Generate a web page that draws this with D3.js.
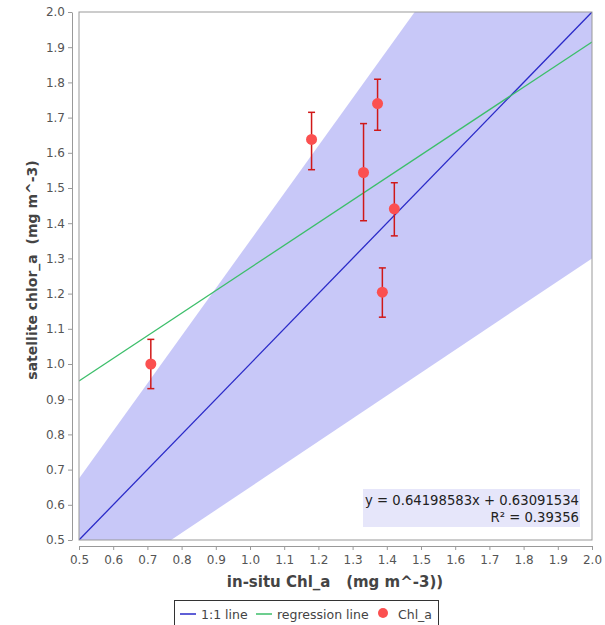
<!DOCTYPE html>
<html><head><meta charset="utf-8">
<script src="https://cdn.jsdelivr.net/npm/d3@7"></script>
<style>body{margin:0;background:#fff;} svg{display:block;font-family:"DejaVu Sans",sans-serif;} text{white-space:pre;}</style>
</head><body>
<svg id="c" width="605" height="625"></svg>
<script>
const insitu = [0.71, 1.18, 1.332, 1.373, 1.387, 1.422];
const satellite = [1.00, 1.638, 1.544, 1.74, 1.204, 1.441];
const errLow = [0.93, 1.552, 1.407, 1.664, 1.133, 1.364];
const errHigh = [1.07, 1.715, 1.683, 1.809, 1.273, 1.515];
const slope = 0.64198583, intercept = 0.63091534, r2 = "0.39356";
const bandLowFactor = 0.65, bandHighFactor = 1.35;
const xTicks = [0.5,0.6,0.7,0.8,0.9,1.0,1.1,1.2,1.3,1.4,1.5,1.6,1.7,1.8,1.9,2.0];
const yTicks = xTicks;

const svg = d3.select("#c");
const L = 79, R = 592, T = 12, B = 540;
const x = d3.scaleLinear().domain([0.5, 2.0]).range([L, R]);
const y = d3.scaleLinear().domain([0.5, 2.0]).range([B, T]);

svg.append("defs").append("clipPath").attr("id","clip")
  .append("rect").attr("x",L).attr("y",T).attr("width",R-L).attr("height",B-T);
const plot = svg.append("g").attr("clip-path","url(#clip)");

// band
const xs = [0.5, 2.0];
const bandPts = [[0.5, 0.5*bandHighFactor],[2.0,2.0*bandHighFactor],[2.0,2.0*bandLowFactor],[0.5,0.5*bandLowFactor]];
plot.append("path").attr("d", d3.line().x(d=>x(d[0])).y(d=>y(d[1]))(bandPts)+"Z")
  .attr("fill","#c8c8f8");

// 1:1 line
plot.append("path").attr("d", d3.line().x(d=>x(d)).y(d=>y(d))(xs))
  .attr("stroke","#2a2ac8").attr("stroke-width",1.3).attr("fill","none");
// regression
plot.append("path").attr("d", d3.line().x(d=>x(d)).y(d=>y(slope*d+intercept))(xs))
  .attr("stroke","#3cbe6a").attr("stroke-width",1.3).attr("fill","none");

// error bars
const eb = plot.append("g").attr("stroke","#d01818").attr("stroke-width",1.5);
insitu.forEach((v,i)=>{
  eb.append("line").attr("x1",x(v)).attr("x2",x(v)).attr("y1",y(errLow[i])).attr("y2",y(errHigh[i]));
  eb.append("line").attr("x1",x(v)-3.5).attr("x2",x(v)+3.5).attr("y1",y(errLow[i])).attr("y2",y(errLow[i]));
  eb.append("line").attr("x1",x(v)-3.5).attr("x2",x(v)+3.5).attr("y1",y(errHigh[i])).attr("y2",y(errHigh[i]));
});
plot.selectAll("circle.pt").data(insitu).join("circle").attr("class","pt")
  .attr("cx",d=>x(d)).attr("cy",(d,i)=>y(satellite[i])).attr("r",5.5).attr("fill","#fb5050");

// plot border
svg.append("rect").attr("x",L).attr("y",T).attr("width",R-L).attr("height",B-T)
  .attr("fill","none").attr("stroke","#999").attr("stroke-width",1);

// annotation
const ann = svg.append("g");
ann.append("rect").attr("x",363).attr("y",489).attr("width",217).attr("height",38).attr("fill","#e6e6fa");
ann.append("text").attr("x",579).attr("y",505).attr("text-anchor","end").attr("font-size",13.2).attr("fill","#222")
  .text(`y = ${slope}x + ${intercept}`);
ann.append("text").attr("x",579).attr("y",522).attr("text-anchor","end").attr("font-size",13.2).attr("fill","#222")
  .text(`R² = ${r2}`);

// axes
const xAxis = svg.append("g").attr("transform",`translate(0,${B+6})`)
  .call(d3.axisBottom(x).tickValues(xTicks).tickFormat(d3.format(".1f")).tickSize(4).tickSizeOuter(0));
const yAxis = svg.append("g").attr("transform",`translate(${L-7},0)`)
  .call(d3.axisLeft(y).tickValues(yTicks).tickFormat(d3.format(".1f")).tickSize(4).tickSizeOuter(0));
[xAxis,yAxis].forEach(a=>{
  a.selectAll(".domain").attr("stroke","#999");
  a.selectAll(".tick line").attr("stroke","#999");
  a.selectAll(".tick text").attr("fill","#555").attr("font-size",12).attr("font-family","DejaVu Sans");
});
xAxis.selectAll(".tick text").attr("dy","0.9em");

svg.append("text").attr("x",335).attr("y",587).attr("text-anchor","middle")
  .attr("font-size",15).attr("font-weight","bold").attr("fill","#444").text("in-situ Chl_a   (mg m^-3))");
svg.append("text").attr("transform",`translate(37,270) rotate(-90)`).attr("text-anchor","middle")
  .attr("font-size",14).attr("font-weight","bold").attr("fill","#444").text("satellite chlor_a  (mg m^-3)");

// legend
const lg = svg.append("g");
lg.append("rect").attr("x",174.5).attr("y",600.5).attr("width",264).attr("height",30)
  .attr("fill","#fff").attr("stroke","#333").attr("stroke-width",1);
lg.append("line").attr("x1",180).attr("x2",196).attr("y1",614).attr("y2",614).attr("stroke","#2a2ac8").attr("stroke-width",1.5);
lg.append("text").attr("x",201).attr("y",619).attr("font-size",12.5).attr("fill","#444").text("1:1 line");
lg.append("line").attr("x1",256).attr("x2",272).attr("y1",614).attr("y2",614).attr("stroke","#3cbe6a").attr("stroke-width",1.5);
lg.append("text").attr("x",277).attr("y",619).attr("font-size",12.5).attr("fill","#444").text("regression line");
lg.append("circle").attr("cx",383).attr("cy",613).attr("r",5).attr("fill","#fb5050");
lg.append("text").attr("x",398).attr("y",619).attr("font-size",12.5).attr("fill","#444").text("Chl_a");
</script>
</body></html>
